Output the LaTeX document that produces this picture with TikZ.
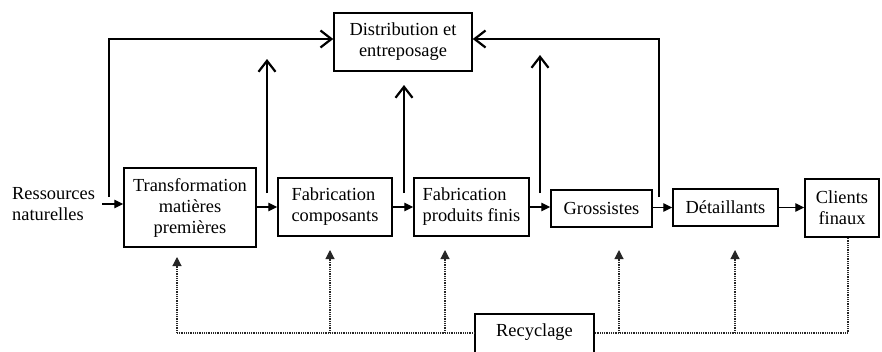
\documentclass[tikz,border=0pt]{standalone}
\usepackage{fontspec}
\setmainfont{Liberation Serif}
\usetikzlibrary{arrows.meta}
\begin{document}
\begin{tikzpicture}[x=1pt,y=-1pt,
  every node/.style={font=\fontsize{18.4}{21}\selectfont},
  box/.style={draw,line width=1.5pt,align=center,inner sep=0pt},
  fwd/.style={line width=1.3pt,-{Triangle[length=9pt,width=8.5pt]}},
  back/.style={line width=2.8pt,-{Straight Barb[length=11pt,width=17pt,line width=2.2pt]}},
  dotline/.style={line width=1.1pt,dash pattern=on 1pt off 0.8pt,black!85},
  dotarr/.style={dotline,-{Triangle[length=9pt,width=9pt]}}]
\useasboundingbox (0,0) rectangle (882,351);
\clip (0,0) rectangle (882,351);
\fill[white] (0,0) rectangle (882,351);
% nodes
\node[anchor=west,align=left,inner sep=0pt] (ress) at (12,204) {Ressources\\naturelles};
\node[box,minimum width=138pt,minimum height=58pt] (dist) at (403,42) {Distribution et\\entreposage};
\node[box,minimum width=132pt,minimum height=79pt] (trans) at (190,207.5) {Transformation\\matières\\premières};
\node[box,minimum width=114pt,minimum height=58pt,align=left] (fcomp) at (335,207) {Fabrication\\composants};
\node[box,minimum width=115pt,minimum height=58pt,align=left] (fprod) at (471.5,207) {Fabrication\\produits finis};
\node[box,minimum width=101pt,minimum height=37pt] (gross) at (601.5,208.5) {Grossistes};
\node[box,minimum width=105pt,minimum height=37pt] (det) at (725.5,207.5) {Détaillants};
\node[box,minimum width=74pt,minimum height=58pt] (cli) at (842,208) {Clients\\finaux};
\node[box,anchor=north,minimum width=119pt,text height=23pt,text depth=30pt] (recy) at (534.5,313) {Recyclage};
% coordinates
\coordinate (f1) at (109,197);
\coordinate (f2) at (659,197);
\coordinate (u1) at (267,193); \coordinate (v1) at (267,59);
\coordinate (u2) at (404,193); \coordinate (v2) at (404,85);
\coordinate (u3) at (540,193); \coordinate (v3) at (540,55);
\coordinate (b1) at (177,333); \coordinate (t1) at (177,257);
\coordinate (b2) at (330,333); \coordinate (t2) at (330,250);
\coordinate (b3) at (445,333); \coordinate (t3) at (445,250);
\coordinate (b4) at (619,333); \coordinate (t4) at (619,250);
\coordinate (b5) at (735,333); \coordinate (t5) at (735,250);
\coordinate (b6) at (848,333);
% forward arrows
\draw[fwd,shorten <=7pt] (ress.east) -- (ress.east -| trans.west);
\draw[fwd] (trans.east |- fcomp.west) -- (fcomp.west);
\draw[fwd] (fcomp.east) -- (fprod.west);
\draw[fwd] (fprod.east) -- (fprod.east -| gross.west);
\draw[fwd] (gross.east |- det.west) -- (det.west);
\draw[fwd] (det.east) -- (det.east -| cli.west);
% feedback to distribution
\draw[back] (f1) |- ([yshift=3pt]dist.west);
\draw[back] (f2) |- ([yshift=3pt]dist.east);
\draw[back] (u1) -- (v1);
\draw[back] (u2) -- (v2);
\draw[back] (u3) -- (v3);
% recycling
\draw[dotline] (b1) -- (recy.west |- b1);
\draw[dotline] (recy.east |- b6) -- (b6) -- (b6 |- cli.south);
\draw[dotarr] (b1) -- (t1);
\draw[dotarr] (b2) -- (t2);
\draw[dotarr] (b3) -- (t3);
\draw[dotarr] (b4) -- (t4);
\draw[dotarr] (b5) -- (t5);
\end{tikzpicture}
\end{document}
